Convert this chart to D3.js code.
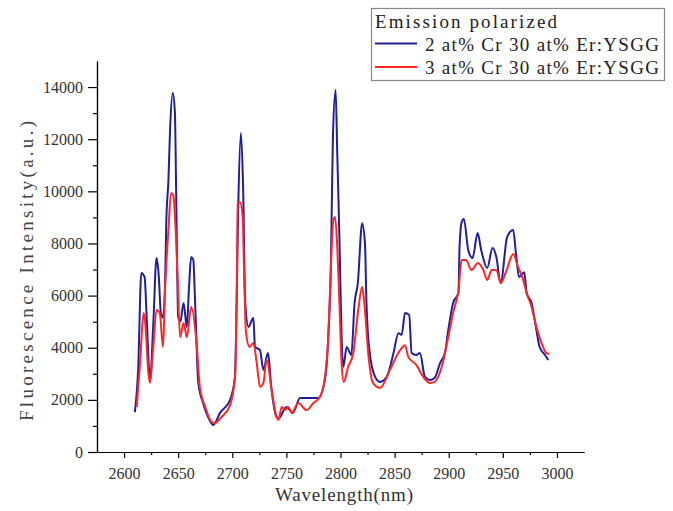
<!DOCTYPE html>
<html>
<head>
<meta charset="utf-8">
<script src="https://cdn.jsdelivr.net/npm/d3@7"></script>
<style>
body { margin: 0; background: #fff; }
</style>
</head>
<body>
<svg id="chart"></svg>
<script>
// series (wavelength in nm, intensity in a.u.)
var blueNm = [2610, 2613, 2616, 2619, 2621, 2624, 2627, 2630, 2632, 2634, 2636, 2638, 2639, 2641, 2642.5, 2645, 2647, 2648, 2649, 2650, 2652, 2655, 2658, 2660, 2662, 2664, 2665.6, 2668.6, 2673, 2679, 2682.5, 2688.7, 2698, 2702.5, 2704, 2705.6, 2708, 2710, 2712, 2715, 2719.5, 2721, 2725.6, 2728.7, 2733, 2736, 2741, 2743, 2750, 2756, 2762.6, 2769, 2779.5, 2786, 2789, 2791, 2792, 2793, 2795.5, 2797, 2799, 2801, 2802.6, 2805.7, 2810, 2813, 2816, 2820, 2822.6, 2824, 2827, 2832, 2836.5, 2842.7, 2849, 2853.5, 2856.5, 2859.6, 2863.5, 2865.7, 2870, 2873.4, 2878, 2882.7, 2887, 2892, 2896.5, 2899.6, 2904, 2909, 2910, 2912, 2914, 2918, 2922, 2926.7, 2930, 2935.6, 2940.5, 2944, 2948, 2954, 2959.6, 2962, 2965, 2969.8, 2972, 2976.6, 2981, 2984, 2989, 2992]
var blueVal = [1530, 3150, 6870, 6710, 5060, 2760, 4900, 7440, 6800, 5330, 5150, 6600, 8780, 10430, 12350, 13770, 13000, 10430, 7250, 5180, 5000, 5720, 4800, 6300, 7480, 7370, 5800, 2650, 1880, 1230, 1040, 1500, 2000, 2880, 5700, 9550, 12240, 10170, 5710, 4800, 5140, 4030, 3910, 3150, 3800, 2500, 1340, 1300, 1730, 1500, 2070, 2070, 2070, 2880, 4680, 6980, 9550, 12100, 13890, 11470, 8250, 4410, 3260, 4030, 3720, 5710, 6480, 8780, 8020, 5710, 3800, 2880, 2690, 2880, 3800, 4560, 4490, 5330, 5250, 3800, 3720, 3800, 2880, 2760, 2840, 3410, 3800, 4680, 5710, 6100, 7860, 8820, 8940, 7750, 7440, 8400, 7750, 7060, 7830, 7480, 6480, 8250, 8520, 7670, 6710, 6900, 6100, 5710, 4680, 4030, 3720, 3530]

var redNm = [2611.7, 2614.8, 2618, 2619.4, 2622.5, 2624, 2627, 2630, 2633, 2636, 2638, 2641, 2643.4, 2645.5, 2647.8, 2649.6, 2651.7, 2655, 2658, 2662, 2667, 2670, 2675, 2681, 2684, 2690, 2698, 2702.5, 2704, 2705, 2707, 2709.6, 2711, 2712.7, 2716, 2719.5, 2722.6, 2725.6, 2728.7, 2731.8, 2736.4, 2741, 2742.6, 2745.7, 2748.7, 2751.8, 2755, 2761, 2768.7, 2775, 2781, 2785.7, 2788.7, 2791, 2793.4, 2795, 2797, 2799, 2801, 2803, 2807, 2811.8, 2816.4, 2820, 2822.6, 2825.6, 2830, 2836.5, 2845.7, 2853.4, 2859.6, 2862.7, 2870, 2876.5, 2882.7, 2887, 2893.5, 2899.6, 2904, 2909, 2912, 2916, 2921, 2927, 2932, 2935.6, 2939.6, 2944, 2948, 2953.5, 2959.6, 2964, 2968, 2972, 2976.6, 2981, 2985.8, 2990, 2992.8]
var redVal = [1730, 3410, 5330, 5060, 3030, 2650, 4030, 5450, 5330, 4030, 6330, 8520, 9940, 9860, 8400, 6600, 4410, 4950, 4410, 5560, 4180, 2500, 1730, 1150, 1110, 1340, 1800, 2880, 5710, 9550, 9590, 9020, 6710, 4560, 4030, 4180, 3410, 2500, 2650, 3530, 2380, 1340, 1230, 1730, 1610, 1730, 1500, 1880, 1610, 1880, 2110, 2880, 4410, 6980, 8900, 9020, 7870, 5710, 3410, 2690, 3260, 3800, 5450, 6330, 5450, 3800, 2650, 2460, 3150, 3800, 4100, 3640, 3340, 2880, 2650, 2690, 3260, 4410, 5330, 6210, 7370, 7370, 6980, 7250, 6980, 6600, 6980, 6980, 6480, 6980, 7600, 7100, 6710, 6100, 5560, 4800, 4180, 3800, 3760]

var seriesNames = ["2 at% Cr 30 at% Er:YSGG", "3 at% Cr 30 at% Er:YSGG"]
var legendTitle = "Emission polarized"
var xMajor = [2600, 2650, 2700, 2750, 2800, 2850, 2900, 2950, 3000]
var xMinor = [2625, 2675, 2725, 2775, 2825, 2875, 2925, 2975]
var yMajor = [0, 2000, 4000, 6000, 8000, 10000, 12000, 14000]
var yMinor = [1000, 3000, 5000, 7000, 9000, 11000, 13000]

var screen = {width:673, height:511}
var margins = {top:61, left:97, right:89, bottom:59}
var width = screen.width - margins.left - margins.right
var height = screen.height - margins.top - margins.bottom
var font = "Liberation Serif"

var svg = d3.select("#chart")
    .attr("width", screen.width)
    .attr("height", screen.height)

var xScale = d3.scaleLinear()
    .domain([2575, 3025])
    .range([0, width])

var yScale = d3.scaleLinear()
    .domain([0, 15000])
    .range([height, 0])

var plot = svg.append("g")
    .attr("transform", "translate("+margins.left+", "+margins.top+")")

// minor ticks first, then the major axis on top
plot.append("g")
    .attr("transform", "translate(0, "+height+")")
    .call(d3.axisBottom(xScale).tickValues(xMinor).tickSize(3).tickSizeOuter(0).tickFormat(""))
plot.append("g")
    .attr("class", "xaxis")
    .attr("transform", "translate(0, "+height+")")
    .call(d3.axisBottom(xScale).tickValues(xMajor).tickSize(6).tickSizeOuter(0).tickPadding(10).tickFormat(d3.format("d")))

plot.append("g")
    .call(d3.axisLeft(yScale).tickValues(yMinor).tickSize(4).tickSizeOuter(0).tickFormat(""))
plot.append("g")
    .attr("class", "yaxis")
    .call(d3.axisLeft(yScale).tickValues(yMajor).tickSize(9).tickSizeOuter(0).tickPadding(5).tickFormat(d3.format("d")))

plot.selectAll(".domain, .tick line")
    .attr("stroke", "#000")
    .attr("stroke-width", 1.2)

plot.selectAll(".tick text")
    .attr("font-family", font)
    .attr("font-size", 16)
    .attr("fill", "#333")

// draw both spectra
var drawLine = function(nm, vals, color)
{
    var pts = nm.map(function(d, i) { return [d, vals[i]] })
    var lineGenerator = d3.line()
        .curve(d3.curveMonotoneX)
        .x(function(p) { return xScale(p[0]) })
        .y(function(p) { return yScale(p[1]) })
    plot.append("path")
        .datum(pts)
        .attr("fill", "none")
        .attr("stroke", color)
        .attr("stroke-width", 2)
        .attr("stroke-linejoin", "round")
        .attr("d", lineGenerator)
}

var colors = ["#1f1f9c", "#ff2626"]
drawLine(blueNm, blueVal, colors[0])
drawLine(redNm, redVal, colors[1])

// axis titles (spaced out to look like the half-width font of the original)
svg.append("text")
    .attr("x", 344)
    .attr("y", 501)
    .attr("text-anchor", "middle")
    .attr("font-family", font)
    .attr("font-size", 19)
    .attr("fill", "#333")
    .attr("textLength", 138)
    .attr("lengthAdjust", "spacing")
    .text("Wavelength(nm)")

svg.append("text")
    .attr("transform", "translate(33, 271) rotate(-90)")
    .attr("text-anchor", "middle")
    .attr("font-family", font)
    .attr("font-size", 19)
    .attr("fill", "#444")
    .attr("textLength", 300)
    .attr("lengthAdjust", "spacing")
    .text("Fluorescence Intensity(a.u.)")

// legend box
var legend = svg.append("g").attr("id", "legend")
legend.append("rect")
    .attr("x", 371.5)
    .attr("y", 8.5)
    .attr("width", 293)
    .attr("height", 72)
    .attr("fill", "#fff")
    .attr("stroke", "#888")
    .attr("stroke-width", 1.2)

legend.append("text")
    .attr("x", 375)
    .attr("y", 28)
    .attr("font-family", font)
    .attr("font-size", 19)
    .attr("fill", "#222")
    .attr("textLength", 182)
    .attr("lengthAdjust", "spacing")
    .text(legendTitle)

var rows = legend.selectAll(".row")
    .data(seriesNames)
    .enter()
    .append("g")
    .attr("class", "row")
    .attr("transform", function(d, i) { return "translate(0, "+(43.5 + i*23.5)+")" })

rows.append("line")
    .attr("x1", 375)
    .attr("x2", 417)
    .attr("stroke", function(d, i) { return colors[i] })
    .attr("stroke-width", 2)

rows.append("text")
    .attr("x", 425)
    .attr("y", 7)
    .attr("font-family", font)
    .attr("font-size", 19)
    .attr("fill", "#222")
    .attr("textLength", 234)
    .attr("lengthAdjust", "spacing")
    .text(function(d) { return d })
</script>
</body>
</html>
